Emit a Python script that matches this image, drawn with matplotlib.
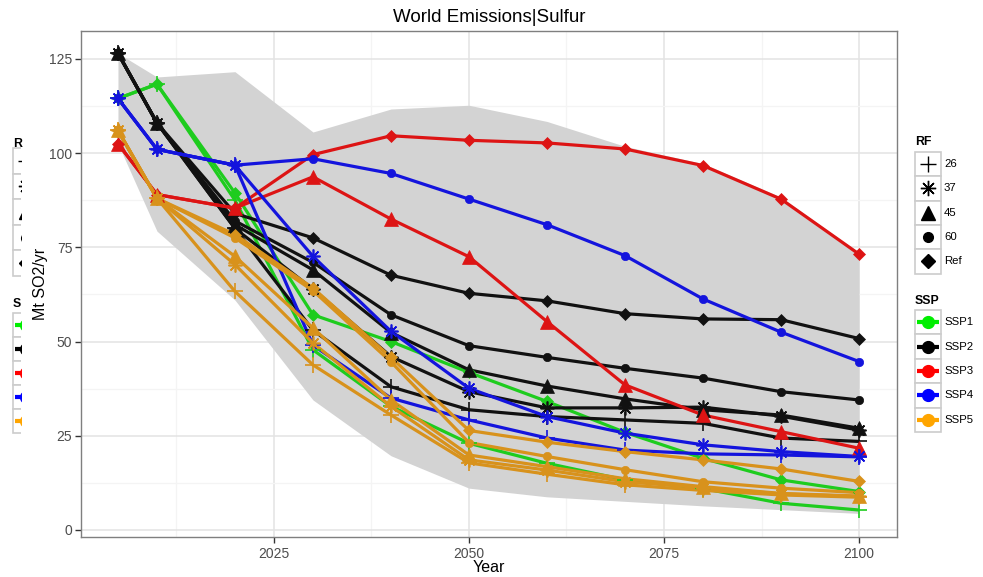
import matplotlib
matplotlib.use('Agg')
import matplotlib.pyplot as plt
from matplotlib.patches import Rectangle
from matplotlib.ticker import MultipleLocator

plt.rcParams['font.family'] = ['Liberation Sans', 'DejaVu Sans']

W, H = 983, 577

#---------------------------------------------- data
years = [2005, 2010, 2020, 2030, 2040, 2050, 2060, 2070, 2080, 2090, 2100]

band_hi = [126.5, 120.2, 121.6, 105.6, 111.7, 112.7, 108.4, 101.8, 97.2, 88.3, 73.6]
band_lo = [102.5, 79.3, 61.0, 34.5, 19.7, 11.1, 8.8, 7.6, 6.4, 5.4, 4.4]

ssp1_ref = [114.5, 118.3, 89.4, 57.1, 50.0, 41.8, 34.1, 25.9, 19.0, 13.3, 10.2]
ssp1_26 = [114.5, 118.3, 87.5, 47.8, 32.8, 23.0, 17.7, 13.3, 11.0, 7.1, 5.3]

ssp2_ref = [126.5, 108.0, 84.0, 77.5, 67.6, 62.8, 60.8, 57.4, 56.0, 55.8, 50.8]
ssp2_60 = [126.5, 108.0, 82.0, 71.0, 57.1, 48.9, 45.8, 42.9, 40.3, 36.7, 34.5]
ssp2_45 = [126.5, 108.0, 81.0, 69.0, 52.4, 42.5, 38.2, 34.8, 31.9, 30.5, 27.0]
ssp2_37 = [126.5, 108.0, 80.0, 63.9, 46.0, 36.7, 32.4, 32.4, 32.6, 30.2, 26.5]
ssp2_26 = [126.5, 108.0, 80.0, 53.0, 38.0, 31.9, 30.1, 29.2, 28.3, 24.4, 23.5]

ssp3_ref = [102.5, 89.0, 85.4, 99.6, 104.6, 103.4, 102.7, 101.1, 96.7, 87.8, 73.2]
ssp3_45 = [102.5, 89.0, 85.4, 93.7, 82.5, 72.5, 55.3, 38.5, 30.5, 26.1, 21.7]

ssp4_60 = [114.5, 101.0, 96.8, 98.5, 94.6, 87.8, 81.0, 72.8, 61.3, 52.5, 44.7]
ssp4_37 = [114.5, 101.0, 96.8, 72.6, 52.7, 37.6, 30.1, 25.7, 22.6, 20.8, 19.5]
ssp4_26 = [114.5, 101.0, 96.8, 49.0, 35.0, 29.2, 24.4, 21.2, 20.2, 19.9, 19.4]

ssp5_ref = [106.0, 88.0, 78.4, 64.2, 45.8, 26.4, 23.3, 20.8, 18.6, 16.2, 12.9]
ssp5_60 = [106.0, 88.0, 77.5, 63.5, 44.6, 23.2, 19.5, 16.0, 12.8, 11.1, 9.9]
ssp5_45 = [106.0, 88.0, 72.6, 53.6, 34.5, 19.9, 16.8, 13.6, 11.5, 9.7, 9.0]
ssp5_37 = [106.0, 88.0, 70.4, 49.6, 32.8, 18.6, 15.9, 12.8, 11.2, 9.6, 8.9]
ssp5_26 = [106.0, 88.0, 63.3, 43.8, 30.5, 17.8, 14.8, 12.0, 10.5, 9.3, 8.7]

series = [
   ('SSP1', 'Ref', ssp1_ref), ('SSP1', '26', ssp1_26),
   ('SSP2', 'Ref', ssp2_ref), ('SSP2', '60', ssp2_60), ('SSP2', '45', ssp2_45),
   ('SSP2', '37', ssp2_37), ('SSP2', '26', ssp2_26),
   ('SSP3', 'Ref', ssp3_ref), ('SSP3', '45', ssp3_45),
   ('SSP4', '60', ssp4_60), ('SSP4', '37', ssp4_37), ('SSP4', '26', ssp4_26),
   ('SSP5', 'Ref', ssp5_ref), ('SSP5', '60', ssp5_60), ('SSP5', '45', ssp5_45),
   ('SSP5', '37', ssp5_37), ('SSP5', '26', ssp5_26),
]

ssp_names = ['SSP1', 'SSP2', 'SSP3', 'SSP4', 'SSP5']
rf_names = ['26', '37', '45', '60', 'Ref']

#---------------------------------------------- styles
line_col = {'SSP1': '#1ecc1e', 'SSP2': '#111111', 'SSP3': '#dd1414',
            'SSP4': '#1414dd', 'SSP5': '#d8921c'}
key_col = {'SSP1': '#00ee00', 'SSP2': '#000000', 'SSP3': '#ff0000',
           'SSP4': '#0000ff', 'SSP5': '#ffa500'}
shape = {'26': '+', '37': (8, 2, 0), '45': '^', '60': 'o', 'Ref': 'D'}
msize = {'26': 11, '37': 10, '45': 9.5, '60': 6, 'Ref': 5.8}
open_mark = ['26', '37']

#---------------------------------------------- main panel
fig = plt.figure(figsize=(W / 100, H / 100), dpi=100)
px_l, px_r, px_t, px_b = 81, 897, 31, 537
ax = fig.add_axes([px_l / W, (H - px_b) / H, (px_r - px_l) / W, (px_b - px_t) / H])

ax.fill_between(years, band_lo, band_hi, color='#d3d3d3', lw=0, zorder=1)

for ssp, rf, vals in series:
   ax.plot(years, vals, '-', color=line_col[ssp], lw=2.3, zorder=2,
           solid_capstyle='butt')
for ssp, rf, vals in series:
   if rf in open_mark:
      ax.plot(years, vals, ls='none', marker=shape[rf], ms=msize[rf],
              mec=line_col[ssp], mew=1.2, zorder=3)
   else:
      ax.plot(years, vals, ls='none', marker=shape[rf], ms=msize[rf],
              mfc=line_col[ssp], mec=line_col[ssp], mew=0.5, zorder=3)

ax.set_xlim(2000.26, 2104.87)
ax.set_ylim(-1.86, 132.4)
ax.set_xticks([2025, 2050, 2075, 2100])
ax.set_yticks([0, 25, 50, 75, 100, 125])
ax.xaxis.set_minor_locator(MultipleLocator(12.5))
ax.yaxis.set_minor_locator(MultipleLocator(12.5))
ax.grid(which='major', color='#e3e3e3', lw=1.1)
ax.grid(which='minor', color='#f4f4f4', lw=0.9)
ax.set_axisbelow(True)
ax.tick_params(which='major', direction='out', length=4.5, width=1.0,
               color='#333333', labelsize=10, labelcolor='#4d4d4d')
ax.tick_params(axis='x', pad=2.5)
ax.tick_params(axis='y', pad=1.8)
ax.tick_params(which='minor', length=0)
for s in ax.spines.values():
   s.set_color('#7f7f7f')
   s.set_linewidth(1.0)

ax.set_xlabel('Year', fontsize=11.5, va='center')
ax.xaxis.set_label_coords(0.5, -(568 - px_b) / (px_b - px_t))
ax.set_ylabel('Mt SO2/yr', fontsize=11.5, va='center')
ax.yaxis.set_label_coords(-(px_l - 40) / (px_r - px_l), 0.5)

fig.text(489 / W, 1 - 18 / H, 'World Emissions|Sulfur', ha='center', va='center',
         fontsize=13.5)


#---------------------------------------------- legends (pixel coordinates)
def draw_legend(lax, x0, rf_title_y, rf_top, rf_h, ssp_title_y, ssp_top, ssp_h,
                titles=('RF', 'SSP'), labels=True):
   kw = 26
   lax.text(x0, rf_title_y, titles[0], fontsize=8.8, fontweight='bold',
            va='center', ha='left')
   for i, rf in enumerate(rf_names):
      y = rf_top + i * rf_h
      lax.add_patch(Rectangle((x0, y), kw, rf_h, facecolor='white',
                              edgecolor='#cccccc', lw=1.2))
      yc = y + rf_h / 2
      if rf in open_mark:
         lax.plot([x0 + kw / 2], [yc], marker=shape[rf], ms=msize[rf] + 1,
                  mec='black', mew=1.0, ls='none')
      else:
         lax.plot([x0 + kw / 2], [yc], marker=shape[rf], ms=msize[rf] + 1,
                  mfc='black', mec='black', ls='none')
      if labels:
         lax.text(x0 + kw + 3, yc, rf, fontsize=8.2, va='center', ha='left')
   lax.text(x0, ssp_title_y, titles[1], fontsize=8.8, fontweight='bold',
            va='center', ha='left')
   for i, ssp in enumerate(ssp_names):
      y = ssp_top + i * ssp_h
      lax.add_patch(Rectangle((x0, y), kw, ssp_h, facecolor='white',
                              edgecolor='#cccccc', lw=1.2))
      yc = y + ssp_h / 2
      lax.plot([x0 + 2, x0 + kw - 2], [yc, yc], color=key_col[ssp], lw=3.0,
               solid_capstyle='butt')
      lax.plot([x0 + kw / 2], [yc], marker='o', ms=8.5, color=key_col[ssp])
      if labels:
         lax.text(x0 + kw + 3, yc, ssp, fontsize=8.2, va='center', ha='left')


# right legend
lax = fig.add_axes([0, 0, 1, 1], zorder=-1)
lax.set_xlim(0, W)
lax.set_ylim(H, 0)
lax.axis('off')
draw_legend(lax, 915, 142, 152, 24.3, 301, 310, 24.4)

# cut-off copy on the left edge
cax = fig.add_axes([0, 0, 21 / W, 1], zorder=-1)
cax.set_xlim(0, 21)
cax.set_ylim(H, 0)
cax.axis('off')
draw_legend(cax, 13, 144, 148, 25.6, 304, 313, 24.0, titles=('R', 'S'),
            labels=False)

fig.savefig('out.png', dpi=100)
